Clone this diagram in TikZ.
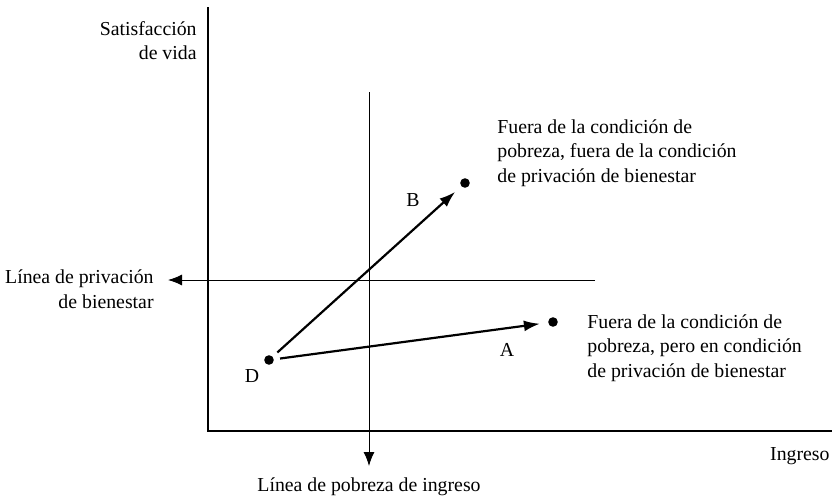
\documentclass[tikz,border=0pt]{standalone}
\usepackage{fontspec}
\setmainfont{Liberation Serif}
\usetikzlibrary{arrows.meta}

\begin{document}
\begin{tikzpicture}[x=0.5pt,y=-0.5pt,
        dot/.style={circle,fill=black,inner sep=0pt,minimum size=4.8pt},
        txt/.style={font=\fontsize{9.9}{12.25}\selectfont,inner sep=0pt},
        axis/.style={line width=1.4pt},
        guide/.style={line width=0.5pt},
        move/.style={line width=1.1pt,shorten <=3pt,shorten >=4pt}]
        \useasboundingbox (0,0) rectangle (832,498);

        % axes
        \coordinate (ytop) at (208,7);
        \coordinate (origin) at (208,431);
        \coordinate (xend) at (832,431);
        \draw[axis] (ytop) -- (origin) -- (xend);

        % the two lines
        \coordinate (povtop) at (369,92);
        \coordinate (povend) at (369,466);
        \coordinate (welstart) at (595,280);
        \coordinate (welend) at (168,280);
        \path[guide,-{Latex[length=7pt,width=5.5pt]}]
        (povtop) edge (povend)
        (welstart) edge (welend);

        % points
        \node[dot] (D) at (269,360) {};
        \node[dot] (B) at (465,183) {};
        \node[dot] (A) at (553,322) {};
        \path[move,-{Latex[length=8pt,width=5.5pt]}]
        (D) edge (B)
        (D) edge (A);

        \node[txt] (Dlab) at (252,376) {D};
        \node[txt] (Blab) at (413,200) {B};
        \node[txt] (Alab) at (507,350) {A};

        % labels (base = last line)
        \node[txt,anchor=base east,align=right] (ylab) at (197,60) {Satisfacción\\de vida};
        \node[txt,anchor=base east] (xlab) at (830,460) {Ingreso};
        \node[txt,anchor=base east,align=right] (wellab) at (154,308) {Línea de privación\\de bienestar};
        \node[txt,anchor=base] (povlab) at (369,491) {Línea de pobreza de ingreso};
        \node[txt,anchor=base west,align=left] (Btxt) at (497,182)
            {Fuera de la condición de\\pobreza, fuera de la condición\\de privación de bienestar};
        \node[txt,anchor=base west,align=left] (Atxt) at (587,377)
            {Fuera de la condición de\\pobreza, pero en condición\\de privación de bienestar};
\end{tikzpicture}
\end{document}
